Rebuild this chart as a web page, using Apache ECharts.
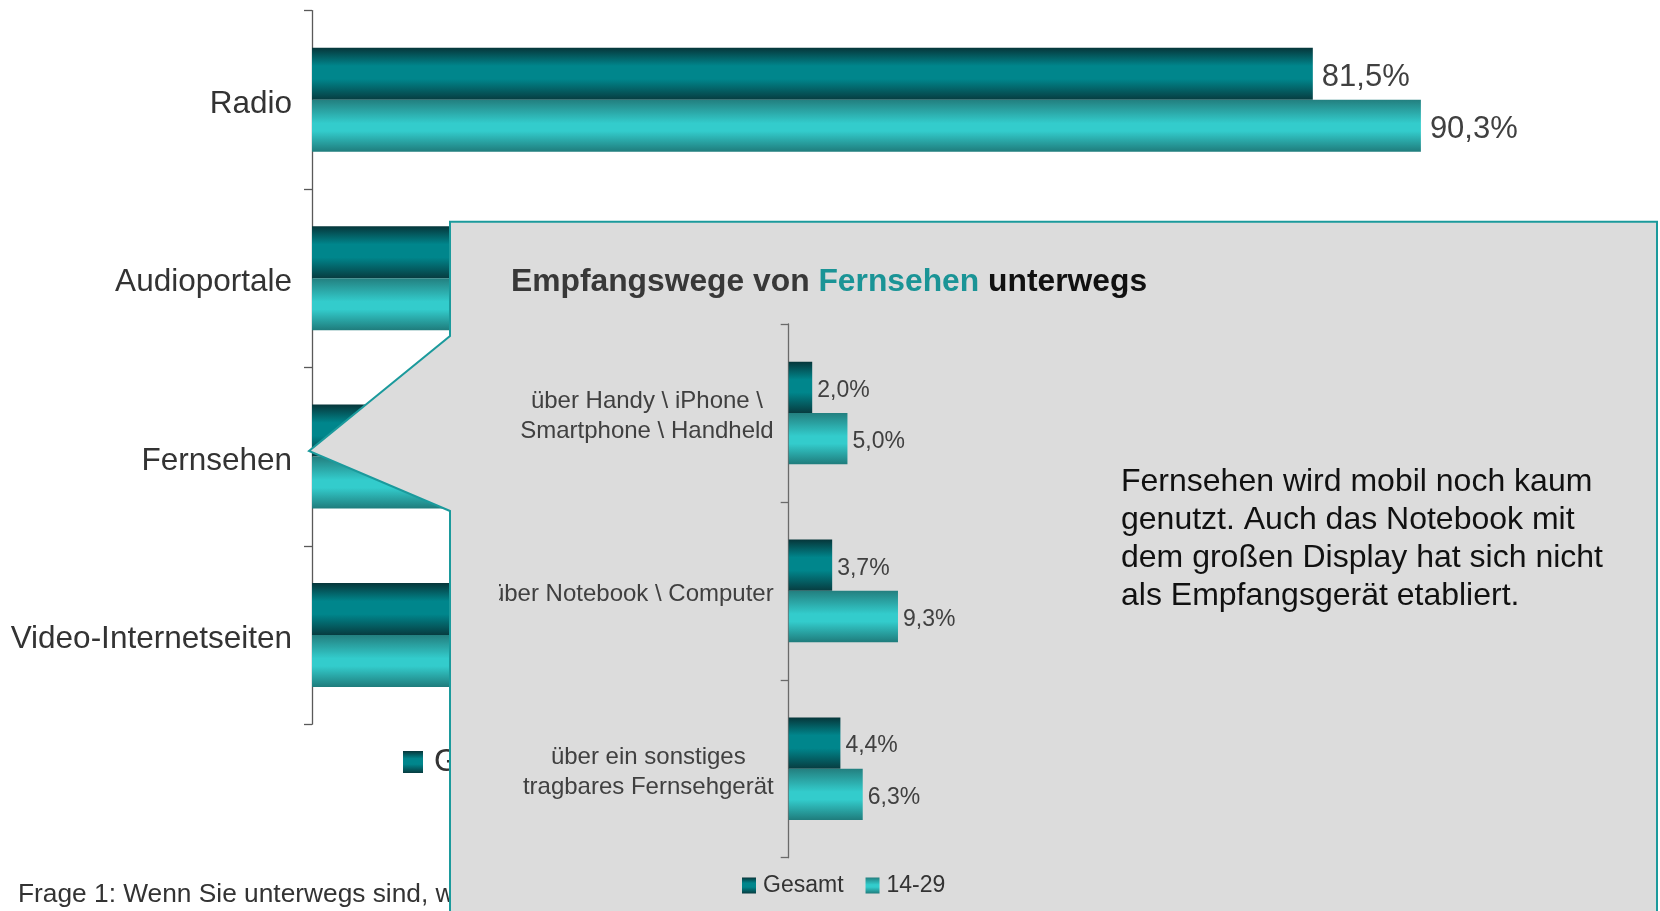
<!DOCTYPE html>
<html>
<head>
<meta charset="utf-8">
<title>Empfangswege unterwegs</title>
<script src="https://cdn.jsdelivr.net/npm/echarts@6.0.0/dist/echarts.min.js"></script>
<style>
	body { margin: 0; background: #fff; }
	#main { width: 1660px; height: 911px; }
</style>
</head>
<body>
<div id="main"></div>
<script>
	// Hauptdiagramm (Balken rechts vom Callout sind verdeckt)
	var mainCats = ['Radio', 'Audioportale', 'Fernsehen', 'Video-Internetseiten'];
	var mainGesamt = [81.5, 17.0, 8.6, 19.8];
	var main1429 = [90.3, 31.5, 12.4, 43.1];

	// Callout: Empfangswege von Fernsehen unterwegs
	var tvCats = ['über Handy \\ iPhone \\\nSmartphone \\ Handheld', 'über Notebook \\ Computer', 'über ein sonstiges\ntragbares Fernsehgerät'];
	var tvGesamt = [2.0, 3.7, 4.4];
	var tv1429 = [5.0, 9.3, 6.3];

	var seriesNames = ['Gesamt', '14-29'];
	var noteLines = ['Fernsehen wird mobil noch kaum', 'genutzt. Auch das Notebook mit', 'dem großen Display hat sich nicht', 'als Empfangsgerät etabliert.'];
	var footnote = 'Frage 1: Wenn Sie unterwegs sind, w';

	var FONT = '"Liberation Sans", Arial, sans-serif';
	var BOX = '#dcdcdc';

	var colGesamt = new echarts.graphic.LinearGradient(0, 0, 0, 1, [
		{offset: 0, color: '#06363a'},
		{offset: 0.35, color: '#00868c'},
		{offset: 0.6, color: '#00868c'},
		{offset: 1, color: '#073c40'}
	]);
	var col1429 = new echarts.graphic.LinearGradient(0, 0, 0, 1, [
		{offset: 0, color: '#237f7f'},
		{offset: 0.45, color: '#33cccc'},
		{offset: 0.6, color: '#33cccc'},
		{offset: 1, color: '#1f7c7c'}
	]);

	function pct(p) {
		return p.value.toFixed(1).replace('.', ',') + '%';
	}
	function richLines(v) {
		return v.split('\n').map(function (s) { return '{c|' + s + '}'; }).join('\n');
	}

	var myChart = echarts.init(document.getElementById('main'));

	var option = {
		animation: false,
		textStyle: { fontFamily: FONT },
		title: {
			text: '{a|Empfangswege von }{b|Fernsehen}{c| unterwegs}',
			left: 506,
			top: 261,
			z: 20,
			textStyle: {
				rich: {
					a: { fontSize: 31.8, fontWeight: 'bold', color: '#383838', fontFamily: FONT },
					b: { fontSize: 31.8, fontWeight: 'bold', color: '#1a9496', fontFamily: FONT },
					c: { fontSize: 31.8, fontWeight: 'bold', color: '#111111', fontFamily: FONT }
				}
			}
		},
		legend: [
			{
				data: seriesNames,
				left: 398,
				top: 741,
				icon: 'rect',
				itemWidth: 20,
				itemHeight: 22,
				itemGap: 40,
				textStyle: { fontSize: 31.5, color: '#333', fontFamily: FONT, padding: [0, 0, 0, 6] }
			},
			{
				data: seriesNames,
				left: 737,
				top: 869,
				icon: 'rect',
				itemWidth: 14,
				itemHeight: 16,
				itemGap: 22,
				z: 20,
				textStyle: { fontSize: 23, color: '#333', fontFamily: FONT, padding: [0, 0, 0, 2] }
			}
		],
		grid: [
			{ left: 312, top: 10.6, width: 1228, height: 713.6 },
			{ left: 788.7, top: 324, width: 705, height: 533.7, z: 20 }
		],
		xAxis: [
			{ gridIndex: 0, type: 'value', min: 0, max: 100, show: false },
			{ gridIndex: 1, type: 'value', min: 0, max: 60, show: false, z: 20 }
		],
		yAxis: [
			{
				gridIndex: 0,
				type: 'category',
				data: mainCats,
				inverse: true,
				axisLine: { lineStyle: { color: '#595959', width: 1.3 } },
				axisTick: { show: true, length: 8, lineStyle: { color: '#595959', width: 1.3 } },
				axisLabel: {
					margin: 20,
					padding: [8.5, 0, 0, 0],
					formatter: richLines,
					rich: {
						c: { fontSize: 31.5, color: '#333', fontFamily: FONT }
					}
				}
			},
			{
				gridIndex: 1,
				type: 'category',
				data: tvCats,
				inverse: true,
				z: 20,
				axisLine: { lineStyle: { color: '#6a6a6a', width: 1.3 } },
				axisTick: { show: true, length: 8, lineStyle: { color: '#6a6a6a', width: 1.3 } },
				axisLabel: {
					margin: 15,
					padding: [7, 0, 0, 0],
					formatter: richLines,
					rich: {
						c: { align: 'center', fontSize: 24, lineHeight: 29.6, color: '#404040', fontFamily: FONT }
					}
				}
			}
		],
		series: [
			{
				name: seriesNames[0], type: 'bar', xAxisIndex: 0, yAxisIndex: 0,
				data: mainGesamt, barWidth: 52, barGap: '0%',
				itemStyle: { color: colGesamt },
				label: { show: true, position: 'right', distance: 9, offset: [0, 3.2], fontSize: 31, color: '#404040', formatter: pct }
			},
			{
				name: seriesNames[1], type: 'bar', xAxisIndex: 0, yAxisIndex: 0,
				data: main1429, barWidth: 52, barGap: '0%',
				itemStyle: { color: col1429 },
				label: { show: true, position: 'right', distance: 9, offset: [0, 3.2], fontSize: 31, color: '#404040', formatter: pct }
			},
			{
				name: seriesNames[0], type: 'bar', xAxisIndex: 1, yAxisIndex: 1, z: 20,
				data: tvGesamt, barWidth: 51.3, barGap: '0%',
				itemStyle: { color: colGesamt },
				label: { show: true, position: 'right', distance: 5, offset: [0, 3], fontSize: 23, color: '#404040', formatter: pct }
			},
			{
				name: seriesNames[1], type: 'bar', xAxisIndex: 1, yAxisIndex: 1, z: 20,
				data: tv1429, barWidth: 51.3, barGap: '0%',
				itemStyle: { color: col1429 },
				label: { show: true, position: 'right', distance: 5, offset: [0, 3], fontSize: 23, color: '#404040', formatter: pct }
			}
		],
		graphic: [
			{
				type: 'text', left: 18, top: 882, z: 1,
				style: { text: footnote, fontSize: 26.3, fontFamily: FONT, fill: '#333' }
			},
			{
				// Sprechblase ueber dem Hauptdiagramm
				type: 'polygon', z: 10,
				shape: { points: [[450, 221.7], [1657, 221.7], [1657, 930], [450, 930], [450, 511], [309, 451], [450, 336]] },
				style: { fill: BOX, stroke: '#1b9a9c', lineWidth: 2 }
			},
			{
				// eingebettetes Diagramm ist links beschnitten
				type: 'rect', z: 25,
				shape: { x: 452, y: 574, width: 47, height: 42 },
				style: { fill: BOX }
			},
			{
				type: 'text', left: 1121, top: 463, z: 20,
				style: { text: noteLines.join('\n'), fontSize: 32, lineHeight: 38, fontFamily: FONT, fill: '#111' }
			}
		]
	};

	myChart.setOption(option);
</script>
</body>
</html>
